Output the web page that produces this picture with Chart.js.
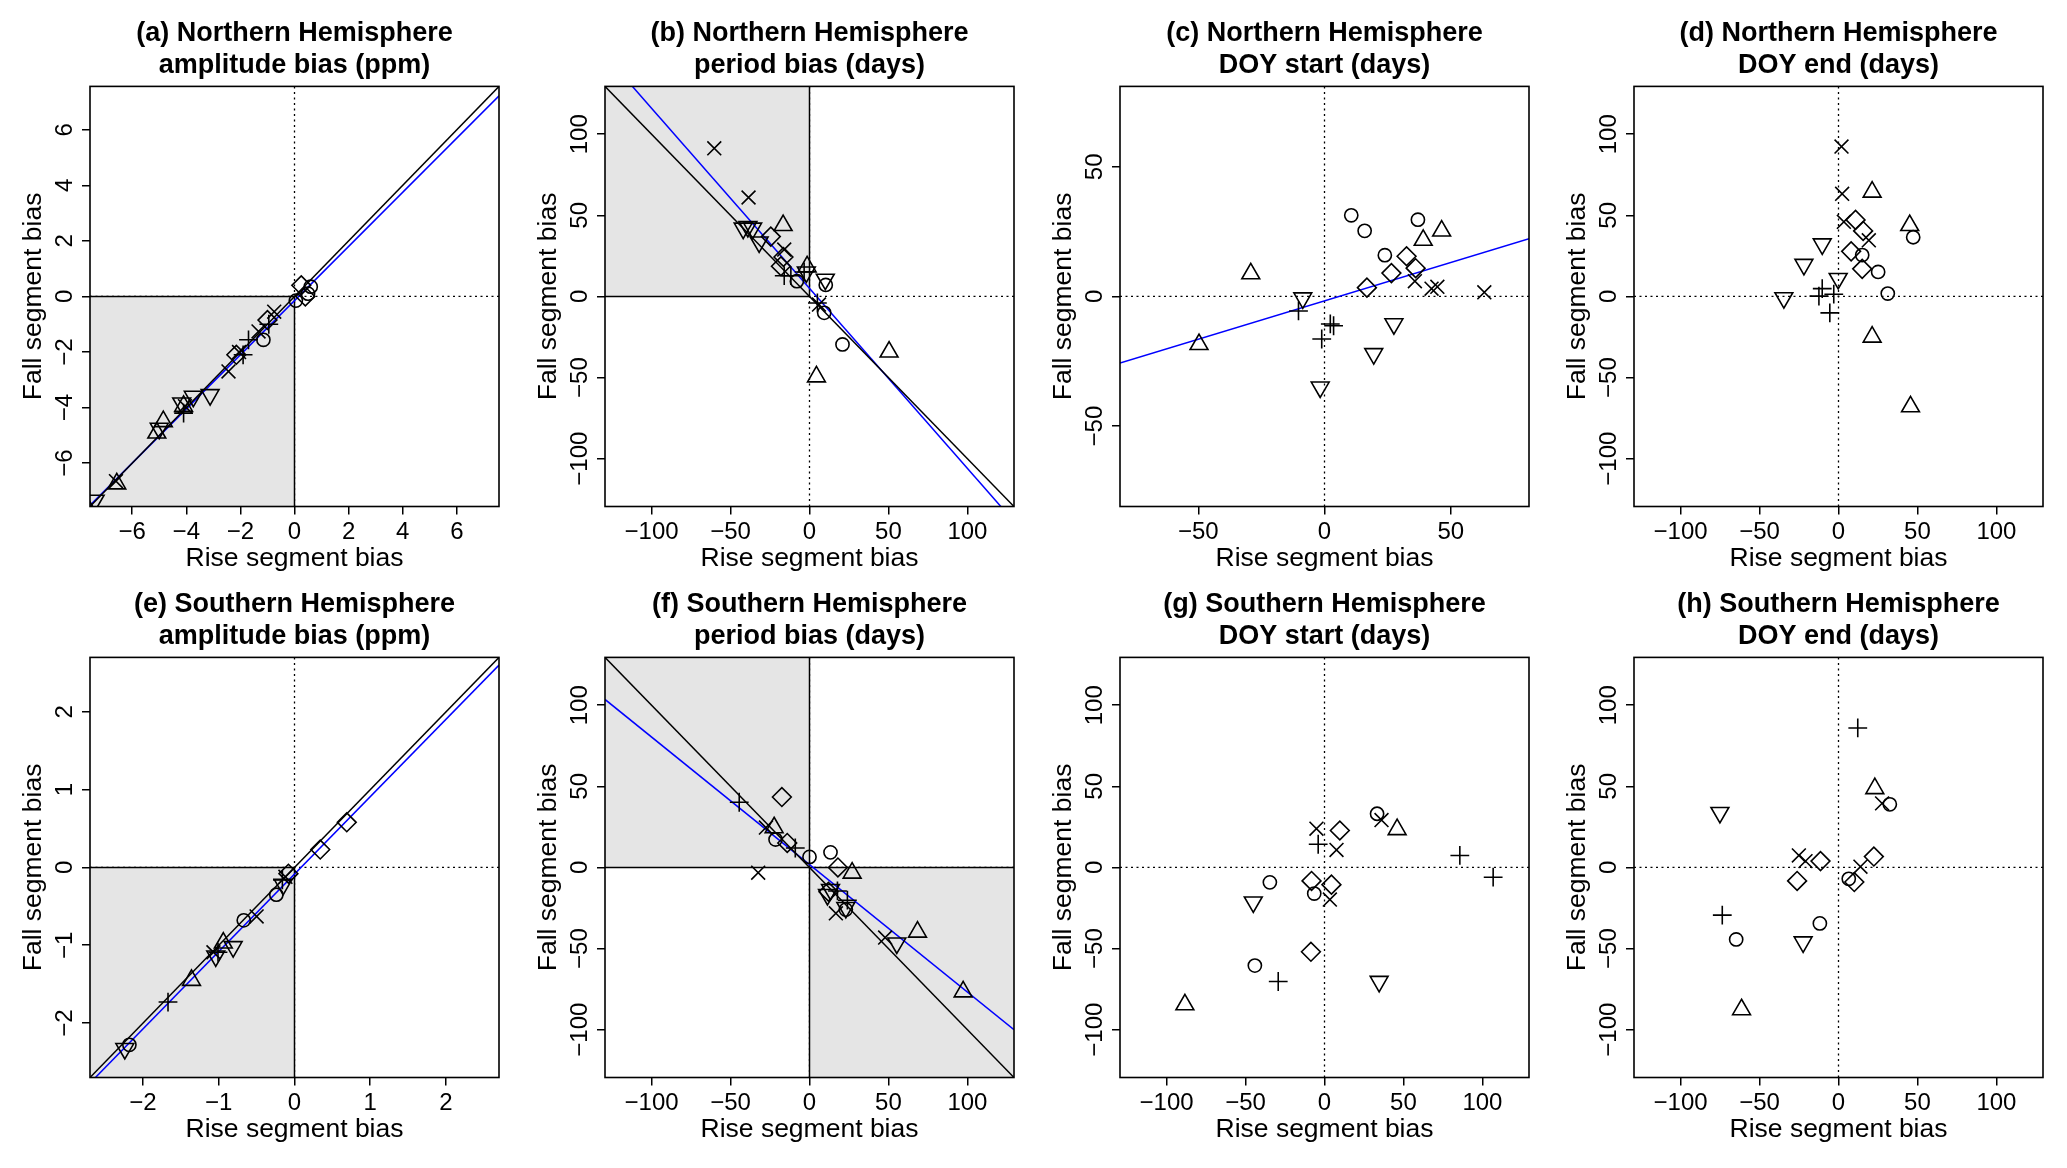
<!DOCTYPE html>
<html>
<head>
<meta charset="utf-8">
<title>Rise vs fall segment bias</title>
<script src="https://cdn.jsdelivr.net/npm/chart.js@4.4.1/dist/chart.umd.min.js"></script>
<style>
  html, body { margin: 0; padding: 0; background: #fff; }
  body { width: 2067px; height: 1168px; position: relative; overflow: hidden; }
  canvas { position: absolute; }
</style>
</head>
<body>
<canvas id="p0" width="515" height="575"></canvas>
<canvas id="p1" width="515" height="575"></canvas>
<canvas id="p2" width="515" height="575"></canvas>
<canvas id="p3" width="515" height="575"></canvas>
<canvas id="p4" width="515" height="575"></canvas>
<canvas id="p5" width="515" height="575"></canvas>
<canvas id="p6" width="515" height="575"></canvas>
<canvas id="p7" width="515" height="575"></canvas>
<script>
// ---- data: [rise bias, fall bias] per symbol group ----
// (a) NH amplitude
const nhAmpUp    = [[-6.57, -6.74], [-5.09, -4.91], [-4.85, -4.5], [-4.1, -3.95]];
const nhAmpDn    = [[-7.37, -7.34], [-5.0, -4.75], [-4.17, -3.84], [-3.74, -3.6], [-3.12, -3.54]];
const nhAmpCirc  = [[-1.15, -1.56], [0.05, -0.15], [0.5, 0.1], [0.6, 0.35]];
const nhAmpPlus  = [[-4.1, -4.2], [-1.9, -2.1], [-1.7, -1.56], [-0.95, -1.0]];
const nhAmpCross = [[-6.6, -6.65], [-4.05, -3.95], [-2.44, -2.7], [-2.05, -2.0], [-1.33, -1.26], [-0.75, -0.55]];
const nhAmpDiam  = [[-2.15, -2.1], [-1.0, -0.85], [0.25, 0.4], [0.4, 0.0]];
// (b) NH period
const nhPerUp    = [[-16.7, 43.8], [-1.5, 18.3], [4.4, -49.5], [50.4, -34.2]];
const nhPerDn    = [[-42, 42], [-39, 43], [-36, 42], [-31.9, 33.5], [-2, 15], [10, 10.5]];
const nhPerCirc  = [[-8, 9.4], [10.3, 7.1], [9.3, -10.1], [20.9, -29.6]];
const nhPerPlus  = [[-16, 12.8], [-11.8, 12.8], [-3.4, 15.1], [5, -4]];
const nhPerCross = [[-60.3, 91.3], [-38.6, 61], [-16, 28.9], [6, -5]];
const nhPerDiam  = [[-24.5, 36.9], [-16.5, 24.3], [-18.1, 18.6]];
// (c) NH DOY start
const nhStartUp    = [[-49.7, -18.5], [-29.2, 8.8], [39.1, 21.7], [46.4, 25.3]];
const nhStartDn    = [[-8.6, -0.6], [-1.7, -35], [19.5, -22.1], [27.5, -10.6]];
const nhStartCirc  = [[10.6, 31.3], [15.9, 25.3], [23.9, 15.9], [37, 29.6]];
const nhStartPlus  = [[-10.3, -5.6], [-1.1, -16.4], [2.3, -10.6], [3.6, -11.3]];
const nhStartCross = [[35.8, 5.9], [42.4, 3], [44.7, 3.7], [63.3, 1.6]];
const nhStartDiam  = [[16.8, 3.4], [26.5, 9], [32.5, 15.5], [36.1, 10.9]];
// (d) NH DOY end
const nhEndUp    = [[21.3, 64.4], [45.1, 43.8], [21.3, -25], [45.6, -67.9]];
const nhEndDn    = [[-34.6, -0.9], [-21.9, 19.7], [-10.3, 32.3], [-0.2, 11]];
const nhEndCirc  = [[15, 25.5], [25.1, 15.1], [31.2, 1.8], [47.3, 36.5]];
const nhEndPlus  = [[-12.4, 0.2], [-10.3, 4.8], [-5.5, -10.1], [-3, 1.4]];
const nhEndCross = [[1.9, 92.4], [2.3, 63.3], [3.4, 46], [19.2, 34.6]];
const nhEndDiam  = [[8, 27.8], [10.8, 47.2], [15, 17], [15.6, 40.4]];
// (e) SH amplitude
const shAmpUp    = [[-1.36, -1.45], [-0.94, -0.97]];
const shAmpDn    = [[-2.24, -2.33], [-1.04, -1.14], [-0.81, -1.02], [-0.15, -0.22]];
const shAmpCirc  = [[-2.18, -2.28], [-0.67, -0.68], [-0.24, -0.35]];
const shAmpPlus  = [[-1.67, -1.73], [-1.01, -1.09], [-0.16, -0.16]];
const shAmpCross = [[-1.07, -1.09], [-0.5, -0.63], [-0.12, -0.12]];
const shAmpDiam  = [[-0.08, -0.08], [0.34, 0.23], [0.69, 0.58]];
// (f) SH period
const shPerUp    = [[-22.4, 24.6], [27, -3.4], [68.4, -39.8], [97.3, -76.6]];
const shPerDn    = [[11.4, -16.8], [13.3, -13.7], [23, -24.8], [55.3, -46.7]];
const shPerCirc  = [[-21.5, 17.2], [0, 6.5], [13.3, 9.3], [23, -26]];
const shPerPlus  = [[-44.5, 40.2], [-9, 12], [17.7, -14.5], [24, -20.2]];
const shPerCross = [[-27.6, 24.6], [-32.5, -3.2], [16.7, -28.3], [47.9, -43.2]];
const shPerDiam  = [[-17.5, 43.4], [-14.1, 15.1], [12, -15], [18, 0]];
// (g) SH DOY start
const shStartUp    = [[-88.4, -84.6], [46, 23.4]];
const shStartDn    = [[-45.1, -21.4], [34.6, -70.3]];
const shStartCirc  = [[-44.1, -60.5], [-34.6, -9.2], [-6.5, -16.1], [33.3, 33.1]];
const shStartPlus  = [[-29.3, -70.3], [-4, 14.3], [85.7, 7.4], [106.8, -6]];
const shStartCross = [[-5.1, 23.9], [3.4, -19.8], [7.6, 10.8], [36.1, 29.2]];
const shStartDiam  = [[-8.6, -52], [-8.2, -8.3], [4.4, -10.6], [9.7, 22.8]];
// (h) SH DOY end
const shEndUp    = [[-61.4, -87.6], [23, 48.7]];
const shEndDn    = [[-75.1, 33.8], [-22.4, -46]];
const shEndCirc  = [[-64.8, -44.4], [-11.8, -34.5], [6.5, -7], [32.5, 38.9]];
const shEndPlus  = [[-73.6, -29.4], [12.2, 86]];
const shEndCross = [[-25.1, 7.4], [-20.9, 3.9], [13.9, 0.5], [27.6, 39.5]];
const shEndDiam  = [[-26.2, -8.3], [-11.4, 3.9], [10, -9], [22.4, 6.7]];

// fitted lines [slope, intercept] (blue); the black line is the 1:1 / 1:-1 reference
const nhAmpFit = [0.975, -0.15];
const nhPerFit = [-1.11, 5];
const nhStartFit = [0.296, -1.7];
const shAmpFit = [0.995, -0.085];
const shPerFit = [-0.786, 1.8];

// tick labels
const nhAmpTicks = [-6, -4, -2, 0, 2, 4, 6];
const shAmpTicks = [-2, -1, 0, 1, 2];
const doyStartTicks = [-50, 0, 50];
const daysTicks = [-100, -50, 0, 50, 100];

const titles = [
  ['(a) Northern Hemisphere', 'amplitude bias (ppm)'],
  ['(b) Northern Hemisphere', 'period bias (days)'],
  ['(c) Northern Hemisphere', 'DOY start (days)'],
  ['(d) Northern Hemisphere', 'DOY end (days)'],
  ['(e) Southern Hemisphere', 'amplitude bias (ppm)'],
  ['(f) Southern Hemisphere', 'period bias (days)'],
  ['(g) Southern Hemisphere', 'DOY start (days)'],
  ['(h) Southern Hemisphere', 'DOY end (days)']
];

// ---- panel setup ----
const panels = [
  {lim: 7.56, ticks: nhAmpTicks, groups: [nhAmpUp, nhAmpDn, nhAmpCirc, nhAmpPlus, nhAmpCross, nhAmpDiam], fit: nhAmpFit, ref: 1, shade: [[-1, -1]]},
  {lim: 129.5, ticks: daysTicks, groups: [nhPerUp, nhPerDn, nhPerCirc, nhPerPlus, nhPerCross, nhPerDiam], fit: nhPerFit, ref: -1, shade: [[-1, 1]]},
  {lim: 81, ticks: doyStartTicks, groups: [nhStartUp, nhStartDn, nhStartCirc, nhStartPlus, nhStartCross, nhStartDiam], fit: nhStartFit, ref: null, shade: []},
  {lim: 129.5, ticks: daysTicks, groups: [nhEndUp, nhEndDn, nhEndCirc, nhEndPlus, nhEndCross, nhEndDiam], fit: null, ref: null, shade: []},
  {lim: 2.70, ticks: shAmpTicks, groups: [shAmpUp, shAmpDn, shAmpCirc, shAmpPlus, shAmpCross, shAmpDiam], fit: shAmpFit, ref: 1, shade: [[-1, -1]]},
  {lim: 129.5, ticks: daysTicks, groups: [shPerUp, shPerDn, shPerCirc, shPerPlus, shPerCross, shPerDiam], fit: shPerFit, ref: -1, shade: [[-1, 1], [1, -1]]},
  {lim: 129.5, ticks: daysTicks, groups: [shStartUp, shStartDn, shStartCirc, shStartPlus, shStartCross, shStartDiam], fit: null, ref: null, shade: []},
  {lim: 129.5, ticks: daysTicks, groups: [shEndUp, shEndDn, shEndCirc, shEndPlus, shEndCross, shEndDiam], fit: null, ref: null, shade: []}
];

// R pch 2, 6, 1, 3, 4, 5
const symbols = [
  {style: 'triangle', r: 10.3, rot: 0},
  {style: 'triangle', r: 10.3, rot: 180},
  {style: 'circle', r: 6.6, rot: 0},
  {style: 'cross', r: 9.4, rot: 0},
  {style: 'crossRot', r: 9.8, rot: 0},
  {style: 'rectRot', r: 9.4, rot: 0}
];

const FONT = "'Liberation Sans', Arial, Helvetica, sans-serif";
Chart.defaults.font.family = FONT;
Chart.defaults.color = '#000';

const minus = (v) => String(v).replace('-', '\u2212');

const frame = {
  id: 'frame',
  beforeDatasetsDraw(chart, args, opts) {
    const {ctx, chartArea: a, scales: {x, y}} = chart;
    const x0 = x.getPixelForValue(0);
    const y0 = y.getPixelForValue(0);
    ctx.save();
    ctx.beginPath();
    ctx.rect(a.left, a.top, a.right - a.left, a.bottom - a.top);
    ctx.clip();
    ctx.strokeStyle = '#000';
    ctx.lineWidth = 1.3;
    ctx.setLineDash([2, 3.5]);
    ctx.beginPath();
    ctx.moveTo(x0, a.top); ctx.lineTo(x0, a.bottom);
    ctx.moveTo(a.left, y0); ctx.lineTo(a.right, y0);
    ctx.stroke();
    ctx.setLineDash([]);
    opts.shade.forEach(([sx, sy]) => {
      const xe = sx < 0 ? a.left : a.right;
      const ye = sy < 0 ? a.bottom : a.top;
      ctx.fillStyle = '#e5e5e5';
      ctx.fillRect(Math.min(x0, xe), Math.min(y0, ye), Math.abs(xe - x0), Math.abs(ye - y0));
    });
    ctx.lineWidth = 1.5;
    opts.shade.forEach(([sx, sy]) => {
      const xe = sx < 0 ? a.left : a.right;
      const ye = sy < 0 ? a.bottom : a.top;
      ctx.beginPath();
      ctx.moveTo(x0, ye); ctx.lineTo(x0, y0); ctx.lineTo(xe, y0);
      ctx.stroke();
    });
    ctx.restore();
  },
  afterDraw(chart) {
    const {ctx, chartArea: a, scales: {y}} = chart;
    ctx.save();
    ctx.strokeStyle = '#000';
    ctx.lineWidth = 1.6;
    ctx.strokeRect(a.left, a.top, a.right - a.left, a.bottom - a.top);
    // y tick labels, parallel to the axis as in R
    ctx.fillStyle = '#000';
    ctx.font = '24px ' + FONT;
    ctx.textAlign = 'center';
    ctx.textBaseline = 'middle';
    y.ticks.forEach(t => {
      ctx.save();
      ctx.translate(a.left - 25, y.getPixelForValue(t.value));
      ctx.rotate(-Math.PI / 2);
      ctx.fillText(minus(t.value), 0, 0);
      ctx.restore();
    });
    ctx.restore();
  }
};

function lineSet(slope, icpt, lim, color) {
  return {
    type: 'line',
    data: [{x: -lim, y: slope * -lim + icpt}, {x: lim, y: slope * lim + icpt}],
    borderColor: color,
    borderWidth: 1.5,
    pointRadius: 0,
    showLine: true,
    fill: false,
    clip: 0,
    order: 1
  };
}

const lefts = [0, 515, 1030, 1544];
const tops = [0, 571];

panels.forEach((p, i) => {
  const cv = document.getElementById('p' + i);
  cv.style.left = lefts[i % 4] + 'px';
  cv.style.top = tops[Math.floor(i / 4)] + 'px';

  const datasets = p.groups.map((g, k) => ({
    type: 'scatter',
    data: g.map(([x, y]) => ({x, y})),
    pointStyle: symbols[k].style,
    pointRadius: symbols[k].r,
    pointRotation: symbols[k].rot,
    pointBorderColor: '#000',
    pointBackgroundColor: 'rgba(0,0,0,0)',
    pointBorderWidth: 1.6,
    clip: 0,
    order: 0
  }));
  if (p.ref !== null) datasets.push(lineSet(p.ref, 0, p.lim, '#000'));
  if (p.fit) datasets.push(lineSet(p.fit[0], p.fit[1], p.lim, '#0000ff'));

  const setTicks = (s) => { s.ticks = p.ticks.map(v => ({value: v})); };

  new Chart(cv, {
    type: 'scatter',
    data: {datasets},
    options: {
      responsive: false,
      animation: false,
      events: [],
      layout: {padding: {left: 0, right: 16, top: 0, bottom: 0}},
      plugins: {
        legend: {display: false},
        tooltip: {enabled: false},
        title: {
          display: true,
          fullSize: false,
          text: titles[i],
          font: {size: 27, weight: 'bold', lineHeight: 1.174},
          padding: {top: 17.6, bottom: 5.4},
          color: '#000'
        },
        frame: {shade: p.shade}
      },
      scales: {
        x: {
          type: 'linear',
          position: 'bottom',
          min: -p.lim,
          max: p.lim,
          afterBuildTicks: setTicks,
          afterFit: (s) => { s.height = 68.5; },
          border: {display: false},
          grid: {display: true, drawOnChartArea: false, drawTicks: true, tickLength: 8, color: '#000', lineWidth: 1.5},
          ticks: {autoSkip: false, maxRotation: 0, padding: 3, font: {size: 24}, color: '#000', callback: (v) => minus(v)},
          title: {display: true, text: 'Rise segment bias', font: {size: 26.5, lineHeight: 1.2}, padding: {top: 0, bottom: 0}, color: '#000'}
        },
        y: {
          type: 'linear',
          position: 'left',
          min: -p.lim,
          max: p.lim,
          afterBuildTicks: setTicks,
          afterFit: (s) => { s.width = 90; },
          border: {display: false},
          grid: {display: true, drawOnChartArea: false, drawTicks: true, tickLength: 8, color: '#000', lineWidth: 1.5},
          ticks: {display: false},
          title: {display: true, text: 'Fall segment bias', font: {size: 26.5, lineHeight: 1.2}, padding: {top: 17.4, bottom: 0}, color: '#000'}
        }
      }
    },
    plugins: [frame]
  });
});
</script>
</body>
</html>
